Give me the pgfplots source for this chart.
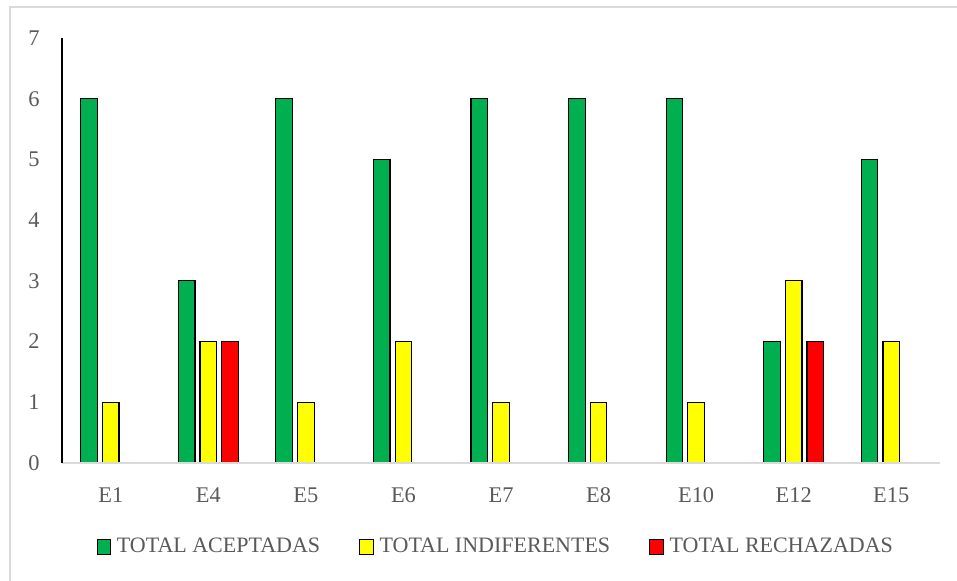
\documentclass[border=0pt]{standalone}
\usepackage{fontspec}
\setmainfont{Liberation Serif}
\usepackage{pgfplots}
\pgfplotsset{compat=1.18}
\definecolor{cgreen}{HTML}{00B050}
\definecolor{cyellow}{HTML}{FFFF00}
\definecolor{cred}{HTML}{FF0000}
\definecolor{labelgray}{HTML}{595959}
\definecolor{framegray}{HTML}{D9D9D9}
\begin{document}
\begin{tikzpicture}[x=1pt,y=1pt]
\useasboundingbox (0,0) rectangle (478.5,290);
% chart frame
\draw[framegray, line width=1.2pt] (5,-10) rectangle (495,286.5);
\begin{axis}[
  at={(31pt,58.5pt)}, anchor=south west,
  scale only axis, width=439pt, height=212.5pt,
  xmin=-0.5, xmax=8.5, ymin=0, ymax=7,
  ybar=2.55pt, bar width=8.3pt,
  axis on top,
  axis x line*=bottom, axis y line*=left,
  x axis line style={draw=framegray, line width=0.8pt, -},
  y axis line style={draw=black, line width=0.65pt, -},
  xtick={0,...,8},
  xticklabels={E1,E4,E5,E6,E7,E8,E10,E12,E15},
  ytick={0,...,7},
  major tick length=0pt,
  tick style={draw=none},
  /pgf/number format/assume math mode=true,
  tick label style={font=\fontsize{11.2}{13}\selectfont, text=labelgray},
  yticklabel style={inner sep=0pt, anchor=east, xshift=-11pt},
  xticklabel style={inner sep=0pt, anchor=north, yshift=-12pt},
  every axis plot/.append style={draw=black, line width=0.6pt},
  legend image code/.code={\draw[#1, line width=0.6pt] (0pt,-3.6pt) rectangle (6.8pt,3.6pt); \path (8.6pt,0pt);},
  legend columns=3,
  legend style={
    at={(0.494,-0.1976)}, anchor=center, draw=none,
    font=\fontsize{11}{13}\selectfont, text=labelgray,
    nodes={inner sep=1pt},
    /tikz/every even column/.append style={column sep=18.5pt},
  },
]
\addplot[fill=cgreen] coordinates {(0,6) (1,3) (2,6) (3,5) (4,6) (5,6) (6,6) (7,2) (8,5)};
\addplot[fill=cyellow] coordinates {(0,1) (1,2) (2,1) (3,2) (4,1) (5,1) (6,1) (7,3) (8,2)};
\addplot[fill=cred] coordinates {(1,2) (7,2)};
\legend{TOTAL ACEPTADAS, TOTAL INDIFERENTES, TOTAL RECHAZADAS}
\end{axis}
\end{tikzpicture}
\end{document}
